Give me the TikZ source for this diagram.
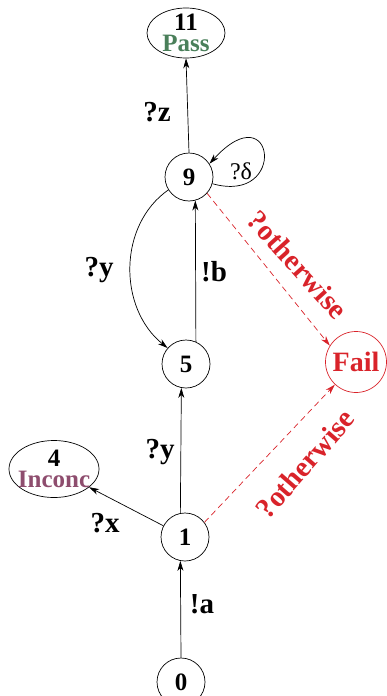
\documentclass[tikz,border=0pt]{standalone}
\usepackage{fontspec}
\setmainfont{Liberation Serif}
\usetikzlibrary{arrows.meta,shapes.geometric}
\definecolor{passgreen}{HTML}{4A7F5A}
\definecolor{inconcpurple}{HTML}{8E4D6E}
\definecolor{failred}{HTML}{D9232A}
\begin{document}
\begin{tikzpicture}[x=1pt,y=-1pt,
  state/.style={draw,circle,minimum size=48pt,inner sep=0pt,line width=0.7pt,
    font=\fontsize{25}{25}\selectfont\bfseries},
  verdictshape/.style={draw,ellipse,inner sep=0pt,line width=0.7pt},
  verdicttext/.style={align=center,inner sep=0pt,font=\fontsize{25}{21}\selectfont\bfseries},
  failstate/.style={draw=failred,circle,minimum size=61pt,inner sep=0pt,line width=0.7pt,
    text=failred,font=\fontsize{28}{28}\selectfont\bfseries},
  tr/.style={line width=0.7pt,-{Stealth[length=10pt,width=6pt,inset=3pt]}},
  failtr/.style={tr,draw=failred,dash pattern=on 6pt off 4pt},
  lbl/.style={inner sep=0pt,font=\fontsize{29}{29}\selectfont\bfseries},
  faillbl/.style={lbl,text=failred},
]
\useasboundingbox (0,0) rectangle (387,696);
% states
\node[verdictshape,minimum width=78pt,minimum height=50pt] (n11) at (186,33) {};
\node[verdicttext] (n11t) at (n11) {11\\\textcolor{passgreen}{Pass}};
\node[state] (n9) at (189,177) {9};
\node[state] (n5) at (186,364) {5};
\node[failstate] (fail) at (356,362) {Fail};
\node[verdictshape,minimum width=90pt,minimum height=57pt] (n4) at (54,469) {};
\node[verdicttext] (n4t) at (n4) {4\\\textcolor{inconcpurple}{Inconc}};
\node[state] (n1) at (185,537) {1};
\node[state] (n0) at (181,682) {0};
% transitions
\draw[tr] (n0.north) -- (n1.259);
\draw[tr] (n1.101) -- (n5.259);
\draw[tr] (n1) -- (n4);
\draw[tr] (n5.66) -- (n9.-75);
\draw[tr] (n9.212) .. controls (118,225) and (118,308) .. (n5.139);
\draw[tr] (n9.-16) .. controls (288,205) and (275,92) .. (n9.33);
\draw[tr] (n9.north) -- (n11.south);
\draw[failtr] (n9.-42) -- (fail.148);
\draw[failtr] (n1.37) -- (fail.227);
% labels
\node[lbl] (lz) at (157,112) {?z};
\node[font=\fontsize{24}{24}\selectfont,inner sep=0pt] (ld) at (241,171) {?δ};
\node[lbl] (ly1) at (99,270) {?y};
\node[lbl] (lb) at (214,272) {!b};
\node[faillbl,rotate=-48] (lo1) at (298,265) {?otherwise};
\node[faillbl,rotate=49] (lo2) at (305,464) {?otherwise};
\node[lbl] (ly2) at (160,452) {?y};
\node[lbl] (lx) at (105,523) {?x};
\node[lbl] (la) at (202,604) {!a};
\end{tikzpicture}
\end{document}
